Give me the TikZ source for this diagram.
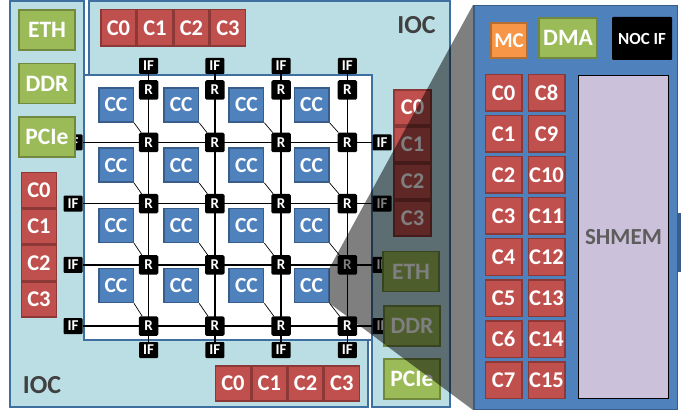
\documentclass[tikz,border=0pt]{standalone}
\usepackage{fontspec}
\setmainfont{Carlito}
\definecolor{iocfill}{RGB}{186,222,228}
\definecolor{iocline}{RGB}{63,110,160}
\definecolor{ccblue}{RGB}{79,129,189}
\definecolor{ccline}{RGB}{56,93,138}
\definecolor{chred}{RGB}{192,80,77}
\definecolor{chline}{RGB}{140,56,54}
\definecolor{devgreen}{RGB}{155,187,89}
\definecolor{devline}{RGB}{113,137,63}
\definecolor{mcorange}{RGB}{247,150,70}
\definecolor{mcline}{RGB}{182,109,49}
\definecolor{memlilac}{RGB}{204,193,218}
\definecolor{lblgray}{RGB}{64,64,64}

\pgfdeclarelayer{iocs}
\pgfdeclarelayer{links}
\pgfsetlayers{iocs,links,main}

\begin{document}
\begin{tikzpicture}[x=1pt, y=-1pt,
    box/.style={inner sep=0pt, text=white},
    router/.style={box, fill=black, minimum size=19.5pt, rounded corners=1.5pt,
                   font=\fontsize{15}{15}\selectfont\bfseries},
    ifbox/.style={box, fill=black, minimum width=19pt, minimum height=16pt,
                  rounded corners=1pt, font=\fontsize{15}{15}\selectfont\bfseries},
    core/.style={box, fill=ccblue, draw=ccline, line width=1.5pt,
                 minimum width=34.5pt, minimum height=34pt,
                 font=\fontsize{21.5}{21.5}\selectfont\bfseries},
    chan/.style={box, fill=chred, draw=chline, line width=1.5pt,
                 minimum width=35pt, minimum height=35pt,
                 font=\fontsize{22.5}{22.5}\selectfont\bfseries},
    chanbig/.style={chan, minimum size=36.5pt},
    dev/.style={box, fill=devgreen, draw=devline, line width=1.8pt,
                minimum width=56pt, minimum height=40pt,
                font=\fontsize{23.5}{23.5}\selectfont\bfseries},
    iocpanel/.style={fill=iocfill, draw=iocline, line width=2pt},
    lbl/.style={inner sep=0pt, text=lblgray, font=\fontsize{26}{26}\selectfont\bfseries},
    link/.style={line width=1.4pt},
    tap/.style={line width=0.7pt},
]
\useasboundingbox (0,0) rectangle (688,414);

% ================================================================
% IOC FRAMES AND MESH AREA
% ================================================================
\begin{pgfonlayer}{iocs}
\draw[iocpanel] (10,1) -- (84,1) -- (84,340) -- (368,340) -- (368,407)
  -- (10,407) -- cycle;
\draw[iocpanel] (89,1) -- (450,1) -- (450,407) -- (372,407) -- (372,75)
  -- (89,75) -- cycle;
\draw[fill=white, draw=iocline, line width=2pt] (84,75) rectangle (372,340);
\end{pgfonlayer}

% ================================================================
% MESH: ROUTERS AND INTERFACES
% ================================================================
\def\rx{148.5}  % first router column
\def\rdx{66.3}  % router pitch (x)
\def\ry{142.5}  % first router row
\def\rdy{61.2}  % router pitch (y)

\foreach \col in {1,...,4} {
  \pgfmathsetmacro{\px}{\rx + (\col-1)*\rdx}
  \node[ifbox] (ifT-\col) at (\px, 66) {IF};
  \node[router] (r-\col-0) at (\px, 90) {R};
  \node[ifbox] (ifB-\col) at (\px, 350) {IF};
  \foreach \row in {1,...,4} {
    \pgfmathsetmacro{\py}{\ry + (\row-1)*\rdy}
    \node[router] (r-\col-\row) at (\px, \py) {R};
  }
}

\foreach \row in {1,...,4} {
  \pgfmathsetmacro{\py}{\ry + (\row-1)*\rdy}
  \node[ifbox] (ifL-\row) at (73, \py) {IF};
  \node[ifbox] (ifR-\row) at (382, \py) {IF};
}

% compute cores, one above-left of each router
\foreach \col in {1,...,4} {
  \foreach \row in {1,...,4} {
    \pgfmathsetmacro{\px}{116 + (\col-1)*65.2}
    \pgfmathsetmacro{\py}{105 + (\row-1)*60.2}
    \node[core] (cc-\col-\row) at (\px, \py) {CC};
  }
}

\begin{pgfonlayer}{links}
\foreach \col in {1,...,4}
  \draw[link] (ifT-\col) -- (ifB-\col);
\foreach \row in {1,...,4}
  \draw[link] (ifL-\row) -- (ifR-\row);
\foreach \col in {1,...,4}
  \foreach \row in {1,...,4}
    \draw[tap] (cc-\col-\row.south east) -- (r-\col-\row);
\end{pgfonlayer}

% ================================================================
% IOC CONTENTS
% ================================================================
\node[dev] (ethL) at (47, 30) {ETH};
\node[dev] (ddrL) at (47, 83.5) {DDR};
\node[dev] (pcieL) at (47, 137) {PCIe};

\foreach \i in {0,...,3} {
  \pgfmathsetmacro{\py}{190 + \i*36.5}
  \node[chan] (chL-\i) at (39, \py) {C\i};
  \pgfmathsetmacro{\px}{118.5 + \i*36.5}
  \node[chan, minimum height=36.5pt] (chT-\i) at (\px, 28) {C\i};
  \pgfmathsetmacro{\px}{233 + \i*36.3}
  \node[chan] (chB-\i) at (\px, 383.5) {C\i};
  \pgfmathsetmacro{\py}{107.5 + \i*37}
  \node[chan, minimum width=37pt] (chR-\i) at (412.5, \py) {C\i};
}

\node[dev] (ethR) at (411, 271.5) {ETH};
\node[dev] (ddrR) at (412, 326) {DDR};
\node[dev] (pcieR) at (412, 379) {PCIe};

\node[lbl] (iocTR) at (416.5, 25) {IOC};
\node[lbl] (iocBL) at (42, 385) {IOC};

% ================================================================
% ZOOM WEDGE: last core --> cluster detail
% ================================================================
\coordinate (socNW) at (473, 5);
\coordinate (socSW) at (473, 410);
\fill[black, opacity=0.5] (cc-4-4.north east) -- (socNW) -- (socSW)
  -- (cc-4-4.south east) -- cycle;

% ================================================================
% CLUSTER DETAIL
% ================================================================
\fill[ccline] (677, 213) rectangle (681, 272);
\node[box, fill=ccblue, draw=ccline, line width=1.5pt,
      minimum width=203.5pt, minimum height=403.5pt] (soc) at (575.5, 207.5) {};

\node[box, fill=mcorange, draw=mcline, line width=1.8pt,
      minimum width=36pt, minimum height=35pt,
      font=\fontsize{21}{21}\selectfont\bfseries] (mc) at (509, 40.5) {MC};
\node[dev, minimum width=58pt] (dma) at (568, 38) {DMA};
\node[box, fill=black, minimum width=60pt, minimum height=43pt,
      rounded corners=1pt, font=\fontsize{17}{17}\selectfont\bfseries]
  (nocif) at (642, 38.5) {NOC IF};

\foreach \i in {0,...,7} {
  \pgfmathsetmacro{\py}{93 + \i*41}
  \pgfmathtruncatemacro{\j}{\i + 8}
  \node[chanbig] (pc-\i) at (503.5, \py) {C\i};
  \node[chanbig] (pc-\j) at (546.5, \py) {C\j};
}

\node[box, fill=memlilac, draw=black, line width=0.8pt,
      minimum width=90pt, minimum height=323pt, text=lblgray!85,
      font=\fontsize{23}{23}\selectfont\bfseries] (shmem) at (623.5, 237) {SHMEM};

\end{tikzpicture}
\end{document}
